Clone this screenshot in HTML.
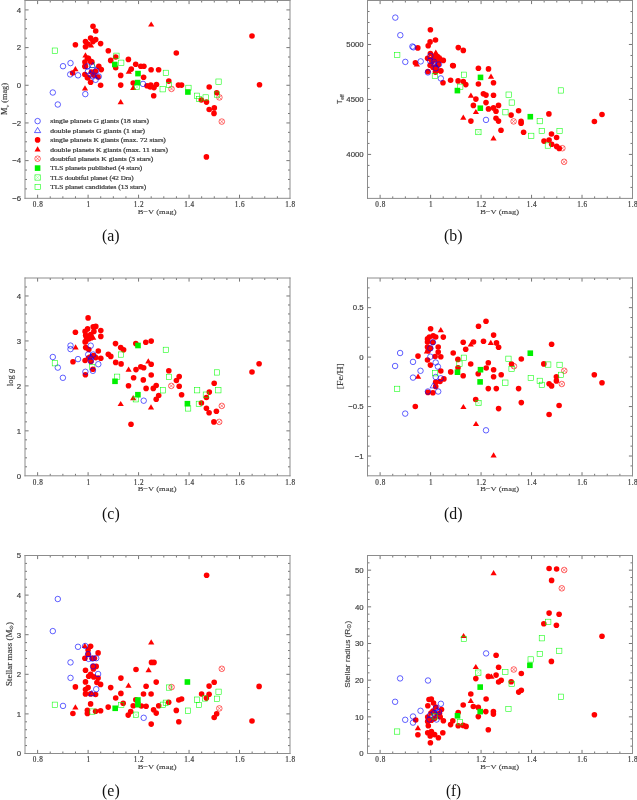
<!DOCTYPE html>
<html><head><meta charset="utf-8"><title>Figure</title>
<style>
html,body{margin:0;padding:0;background:#fff;}
body{width:637px;height:800px;overflow:hidden;}
svg{display:block;}
text{font-family:"Liberation Serif",serif;fill:#3a3a3a;filter:grayscale(1);}
.xl{font-size:7.2px;text-anchor:middle;letter-spacing:0.45px;stroke:#444;stroke-width:0.2px;}
.xt{font-size:7px;text-anchor:middle;stroke:#444;stroke-width:0.12px;}
.yl{font-family:"Liberation Sans",sans-serif;font-size:7.8px;text-anchor:end;stroke:#444;stroke-width:0.18px;}
.yt{font-size:7.6px;text-anchor:middle;stroke:#444;stroke-width:0.15px;}
.yt.sans{font-family:"Liberation Sans",sans-serif;font-size:7.8px;}
.pl{font-size:17px;text-anchor:middle;fill:#111;}
.lg{font-size:5.8px;stroke:#444;stroke-width:0.22px;}
</style></head>
<body><svg width="637" height="800" viewBox="0 0 637 800">
<rect width="637" height="800" fill="#fff"/>
<g id="pa">
<rect x="89.3" y="62.1" width="5.3" height="5.3" fill="none" stroke="#00ff00" stroke-width="0.55"/>
<circle cx="93.0" cy="26.3" r="2.8" fill="#ff0000"/>
<circle cx="95.7" cy="31.0" r="2.8" fill="#ff0000"/>
<circle cx="90.6" cy="38.1" r="2.8" fill="#ff0000"/>
<circle cx="95.7" cy="39.6" r="2.8" fill="#ff0000"/>
<circle cx="93.0" cy="41.6" r="2.8" fill="#ff0000"/>
<circle cx="85.5" cy="41.6" r="2.8" fill="#ff0000"/>
<circle cx="87.8" cy="44.0" r="2.8" fill="#ff0000"/>
<circle cx="85.5" cy="46.7" r="2.8" fill="#ff0000"/>
<circle cx="100.6" cy="43.6" r="2.8" fill="#ff0000"/>
<circle cx="75.4" cy="44.7" r="2.8" fill="#ff0000"/>
<circle cx="108.3" cy="50.7" r="2.8" fill="#ff0000"/>
<circle cx="88.4" cy="58.4" r="2.8" fill="#ff0000"/>
<circle cx="110.7" cy="60.4" r="2.8" fill="#ff0000"/>
<circle cx="115.7" cy="57.0" r="2.8" fill="#ff0000"/>
<circle cx="115.7" cy="67.7" r="2.8" fill="#ff0000"/>
<circle cx="87.4" cy="58.2" r="2.8" fill="#ff0000"/>
<circle cx="84.9" cy="62.0" r="2.8" fill="#ff0000"/>
<circle cx="90.6" cy="61.4" r="2.8" fill="#ff0000"/>
<circle cx="84.9" cy="66.4" r="2.8" fill="#ff0000"/>
<circle cx="98.8" cy="66.4" r="2.8" fill="#ff0000"/>
<circle cx="101.3" cy="69.6" r="2.8" fill="#ff0000"/>
<circle cx="84.9" cy="74.5" r="2.8" fill="#ff0000"/>
<circle cx="87.4" cy="77.7" r="2.8" fill="#ff0000"/>
<circle cx="98.1" cy="77.0" r="2.8" fill="#ff0000"/>
<circle cx="93.7" cy="75.1" r="2.8" fill="#ff0000"/>
<circle cx="88.0" cy="77.6" r="2.8" fill="#ff0000"/>
<circle cx="91.8" cy="61.9" r="2.8" fill="#ff0000"/>
<circle cx="85.5" cy="66.3" r="2.8" fill="#ff0000"/>
<circle cx="95.5" cy="71.3" r="2.8" fill="#ff0000"/>
<circle cx="91.5" cy="72.0" r="2.8" fill="#ff0000"/>
<circle cx="93.5" cy="74.0" r="2.8" fill="#ff0000"/>
<circle cx="72.6" cy="73.0" r="2.8" fill="#ff0000"/>
<circle cx="90.6" cy="82.3" r="2.8" fill="#ff0000"/>
<circle cx="100.6" cy="85.2" r="2.8" fill="#ff0000"/>
<circle cx="128.4" cy="59.4" r="2.8" fill="#ff0000"/>
<circle cx="135.7" cy="64.3" r="2.8" fill="#ff0000"/>
<circle cx="140.8" cy="66.2" r="2.8" fill="#ff0000"/>
<circle cx="143.9" cy="66.2" r="2.8" fill="#ff0000"/>
<circle cx="131.3" cy="69.1" r="2.8" fill="#ff0000"/>
<circle cx="151.1" cy="69.8" r="2.8" fill="#ff0000"/>
<circle cx="158.6" cy="69.8" r="2.8" fill="#ff0000"/>
<circle cx="120.7" cy="75.4" r="2.8" fill="#ff0000"/>
<circle cx="143.6" cy="77.3" r="2.8" fill="#ff0000"/>
<circle cx="168.8" cy="81.1" r="2.8" fill="#ff0000"/>
<circle cx="120.7" cy="85.1" r="2.8" fill="#ff0000"/>
<circle cx="133.2" cy="83.0" r="2.8" fill="#ff0000"/>
<circle cx="147.0" cy="85.8" r="2.8" fill="#ff0000"/>
<circle cx="150.8" cy="85.1" r="2.8" fill="#ff0000"/>
<circle cx="156.5" cy="84.5" r="2.8" fill="#ff0000"/>
<circle cx="154.0" cy="87.6" r="2.8" fill="#ff0000"/>
<circle cx="150.2" cy="87.0" r="2.8" fill="#ff0000"/>
<circle cx="153.7" cy="95.8" r="2.8" fill="#ff0000"/>
<circle cx="178.4" cy="85.1" r="2.8" fill="#ff0000"/>
<circle cx="181.6" cy="85.1" r="2.8" fill="#ff0000"/>
<circle cx="176.3" cy="53.0" r="2.8" fill="#ff0000"/>
<circle cx="252.0" cy="36.0" r="2.8" fill="#ff0000"/>
<circle cx="259.5" cy="84.8" r="2.8" fill="#ff0000"/>
<circle cx="209.2" cy="87.0" r="2.8" fill="#ff0000"/>
<circle cx="216.7" cy="92.7" r="2.8" fill="#ff0000"/>
<circle cx="201.3" cy="100.0" r="2.8" fill="#ff0000"/>
<circle cx="206.5" cy="102.1" r="2.8" fill="#ff0000"/>
<circle cx="209.2" cy="109.5" r="2.8" fill="#ff0000"/>
<circle cx="214.3" cy="107.9" r="2.8" fill="#ff0000"/>
<circle cx="214.0" cy="113.4" r="2.8" fill="#ff0000"/>
<circle cx="206.4" cy="156.9" r="2.8" fill="#ff0000"/>
<path d="M151.2 21.4l3.1 5.2h-6.2z" fill="#ff0000"/>
<path d="M91.0 42.4l3.1 5.2h-6.2z" fill="#ff0000"/>
<path d="M85.5 52.3l3.1 5.2h-6.2z" fill="#ff0000"/>
<path d="M75.4 66.1l3.1 5.2h-6.2z" fill="#ff0000"/>
<path d="M85.0 85.3l3.1 5.2h-6.2z" fill="#ff0000"/>
<path d="M128.8 68.5l3.1 5.2h-6.2z" fill="#ff0000"/>
<path d="M133.2 84.8l3.1 5.2h-6.2z" fill="#ff0000"/>
<path d="M120.7 99.0l3.1 5.2h-6.2z" fill="#ff0000"/>
<circle cx="63.0" cy="66.2" r="2.75" fill="none" stroke="#0000ff" stroke-width="0.62"/>
<circle cx="70.5" cy="63.1" r="2.75" fill="none" stroke="#0000ff" stroke-width="0.62"/>
<circle cx="70.2" cy="74.4" r="2.75" fill="none" stroke="#0000ff" stroke-width="0.62"/>
<circle cx="78.0" cy="75.3" r="2.75" fill="none" stroke="#0000ff" stroke-width="0.62"/>
<circle cx="52.8" cy="92.5" r="2.75" fill="none" stroke="#0000ff" stroke-width="0.62"/>
<circle cx="57.8" cy="104.5" r="2.75" fill="none" stroke="#0000ff" stroke-width="0.62"/>
<circle cx="85.3" cy="94.1" r="2.75" fill="none" stroke="#0000ff" stroke-width="0.62"/>
<circle cx="143.0" cy="83.9" r="2.75" fill="none" stroke="#0000ff" stroke-width="0.62"/>
<circle cx="87.4" cy="66.4" r="2.75" fill="none" stroke="#0000ff" stroke-width="0.62"/>
<circle cx="96.2" cy="70.8" r="2.75" fill="none" stroke="#0000ff" stroke-width="0.62"/>
<circle cx="98.8" cy="76.5" r="2.75" fill="none" stroke="#0000ff" stroke-width="0.62"/>
<circle cx="88.0" cy="71.3" r="2.75" fill="none" stroke="#0000ff" stroke-width="0.62"/>
<circle cx="93.1" cy="76.4" r="2.75" fill="none" stroke="#0000ff" stroke-width="0.62"/>
<circle cx="90.6" cy="74.5" r="2.75" fill="none" stroke="#0000ff" stroke-width="0.62"/>
<circle cx="95.6" cy="79.8" r="2.75" fill="none" stroke="#0000ff" stroke-width="0.62"/>
<path d="M92.8 62.4l3.1 5.2h-6.2z" fill="none" stroke="#0000ff" stroke-width="0.62"/>
<circle cx="171.5" cy="88.9" r="2.8" fill="none" stroke="#ff0000" stroke-width="0.6"/><path d="M169.6 87.0l3.8 3.8M169.6 90.8l3.8 -3.8" stroke="#ff0000" stroke-width="0.45"/>
<circle cx="219.4" cy="97.4" r="2.8" fill="none" stroke="#ff0000" stroke-width="0.6"/><path d="M217.5 95.5l3.8 3.8M217.5 99.3l3.8 -3.8" stroke="#ff0000" stroke-width="0.45"/>
<circle cx="221.8" cy="121.6" r="2.8" fill="none" stroke="#ff0000" stroke-width="0.6"/><path d="M219.9 119.7l3.8 3.8M219.9 123.5l3.8 -3.8" stroke="#ff0000" stroke-width="0.45"/>
<rect x="52.2" y="48.0" width="5.3" height="5.3" fill="none" stroke="#00ff00" stroke-width="0.55"/>
<rect x="113.8" y="53.1" width="5.3" height="5.3" fill="none" stroke="#00ff00" stroke-width="0.55"/>
<rect x="118.6" y="60.1" width="5.3" height="5.3" fill="none" stroke="#00ff00" stroke-width="0.55"/>
<rect x="163.2" y="70.2" width="5.3" height="5.3" fill="none" stroke="#00ff00" stroke-width="0.55"/>
<rect x="160.0" y="86.6" width="5.3" height="5.3" fill="none" stroke="#00ff00" stroke-width="0.55"/>
<rect x="166.3" y="82.4" width="5.3" height="5.3" fill="none" stroke="#00ff00" stroke-width="0.55"/>
<rect x="185.8" y="85.2" width="5.3" height="5.3" fill="none" stroke="#00ff00" stroke-width="0.55"/>
<rect x="215.9" y="79.0" width="5.3" height="5.3" fill="none" stroke="#00ff00" stroke-width="0.55"/>
<rect x="214.3" y="91.9" width="5.3" height="5.3" fill="none" stroke="#00ff00" stroke-width="0.55"/>
<rect x="194.4" y="93.1" width="5.3" height="5.3" fill="none" stroke="#00ff00" stroke-width="0.55"/>
<rect x="196.3" y="96.3" width="5.3" height="5.3" fill="none" stroke="#00ff00" stroke-width="0.55"/>
<rect x="203.0" y="94.8" width="5.3" height="5.3" fill="none" stroke="#00ff00" stroke-width="0.55"/>
<rect x="134.35" y="84.35" width="5.3" height="5.3" fill="none" stroke="#00ff00" stroke-width="0.55"/><path d="M134.35 84.35l5.3 5.3M134.35 89.65l5.3 -5.3" stroke="#00ff00" stroke-width="0.4" stroke-opacity="0.6"/>
<rect x="112.0" y="61.7" width="5.6" height="5.6" fill="#00f000"/>
<rect x="135.2" y="70.8" width="5.6" height="5.6" fill="#00f000"/>
<rect x="134.8" y="79.8" width="5.6" height="5.6" fill="#00f000"/>
<rect x="185.1" y="89.2" width="5.6" height="5.6" fill="#00f000"/>
<path d="M37.62 198.30v-3.60M37.62 0.50v3.60M50.24 198.30v-2.00M50.24 0.50v2.00M62.86 198.30v-2.00M62.86 0.50v2.00M75.48 198.30v-2.00M75.48 0.50v2.00M88.10 198.30v-3.60M88.10 0.50v3.60M100.71 198.30v-2.00M100.71 0.50v2.00M113.33 198.30v-2.00M113.33 0.50v2.00M125.95 198.30v-2.00M125.95 0.50v2.00M138.57 198.30v-3.60M138.57 0.50v3.60M151.19 198.30v-2.00M151.19 0.50v2.00M163.81 198.30v-2.00M163.81 0.50v2.00M176.43 198.30v-2.00M176.43 0.50v2.00M189.05 198.30v-3.60M189.05 0.50v3.60M201.67 198.30v-2.00M201.67 0.50v2.00M214.29 198.30v-2.00M214.29 0.50v2.00M226.90 198.30v-2.00M226.90 0.50v2.00M239.52 198.30v-3.60M239.52 0.50v3.60M252.14 198.30v-2.00M252.14 0.50v2.00M264.76 198.30v-2.00M264.76 0.50v2.00M277.38 198.30v-2.00M277.38 0.50v2.00M25.00 188.88h2.00M290.00 188.88h-2.00M25.00 179.46h2.00M290.00 179.46h-2.00M25.00 170.04h2.00M290.00 170.04h-2.00M25.00 160.62h3.60M290.00 160.62h-3.60M25.00 151.20h2.00M290.00 151.20h-2.00M25.00 141.79h2.00M290.00 141.79h-2.00M25.00 132.37h2.00M290.00 132.37h-2.00M25.00 122.95h3.60M290.00 122.95h-3.60M25.00 113.53h2.00M290.00 113.53h-2.00M25.00 104.11h2.00M290.00 104.11h-2.00M25.00 94.69h2.00M290.00 94.69h-2.00M25.00 85.27h3.60M290.00 85.27h-3.60M25.00 75.85h2.00M290.00 75.85h-2.00M25.00 66.43h2.00M290.00 66.43h-2.00M25.00 57.01h2.00M290.00 57.01h-2.00M25.00 47.60h3.60M290.00 47.60h-3.60M25.00 38.18h2.00M290.00 38.18h-2.00M25.00 28.76h2.00M290.00 28.76h-2.00M25.00 19.34h2.00M290.00 19.34h-2.00M25.00 9.92h3.60M290.00 9.92h-3.60" stroke="#666" stroke-width="0.9" fill="none"/>
<path d="M24.50 0.50H290.50M24.50 198.30H290.50" stroke="#8c8c8c" stroke-width="1" fill="none"/>
<path d="M25.00 0.00V198.80M290.00 0.00V198.80" stroke="#8c8c8c" stroke-width="1" fill="none"/>
<text x="38.02" y="207.00" class="xl">0.8</text>
<text x="88.50" y="207.00" class="xl">1</text>
<text x="138.97" y="207.00" class="xl">1.2</text>
<text x="189.45" y="207.00" class="xl">1.4</text>
<text x="239.92" y="207.00" class="xl">1.6</text>
<text x="290.40" y="207.00" class="xl">1.8</text>
<text x="157.10" y="213.90" class="xt" textLength="38.9" lengthAdjust="spacingAndGlyphs">B−V (mag)</text>
<text x="21.20" y="201.10" class="yl">−6</text>
<text x="21.20" y="163.42" class="yl">−4</text>
<text x="21.20" y="125.75" class="yl">−2</text>
<text x="21.20" y="88.07" class="yl">0</text>
<text x="21.20" y="50.40" class="yl">2</text>
<text x="21.20" y="12.72" class="yl">4</text>
<text transform="translate(4.60 99.00) rotate(-90)" class="yt serif" x="0" y="2.6" textLength="32.0" lengthAdjust="spacingAndGlyphs">M<tspan font-size="5" dy="1.4">v</tspan><tspan dy="-1.4"> (mag)</tspan></text>
<text x="110.80" y="241.30" class="pl" textLength="17.6" lengthAdjust="spacingAndGlyphs">(a)</text>
</g>
<g id="pb">
<circle cx="417.8" cy="47.9" r="2.8" fill="#ff0000"/>
<circle cx="430.4" cy="29.8" r="2.8" fill="#ff0000"/>
<circle cx="435.5" cy="40.0" r="2.8" fill="#ff0000"/>
<circle cx="430.1" cy="41.9" r="2.8" fill="#ff0000"/>
<circle cx="428.2" cy="45.7" r="2.8" fill="#ff0000"/>
<circle cx="415.4" cy="62.8" r="2.8" fill="#ff0000"/>
<circle cx="430.4" cy="53.5" r="2.8" fill="#ff0000"/>
<circle cx="427.6" cy="58.2" r="2.8" fill="#ff0000"/>
<circle cx="433.9" cy="56.4" r="2.8" fill="#ff0000"/>
<circle cx="430.1" cy="65.2" r="2.8" fill="#ff0000"/>
<circle cx="443.3" cy="60.4" r="2.8" fill="#ff0000"/>
<circle cx="440.8" cy="70.8" r="2.8" fill="#ff0000"/>
<circle cx="452.7" cy="65.5" r="2.8" fill="#ff0000"/>
<circle cx="435.4" cy="72.1" r="2.8" fill="#ff0000"/>
<circle cx="427.9" cy="71.6" r="2.8" fill="#ff0000"/>
<circle cx="440.6" cy="71.0" r="2.8" fill="#ff0000"/>
<circle cx="443.0" cy="82.8" r="2.8" fill="#ff0000"/>
<circle cx="450.6" cy="80.2" r="2.8" fill="#ff0000"/>
<circle cx="432.0" cy="62.0" r="2.8" fill="#ff0000"/>
<circle cx="437.0" cy="66.0" r="2.8" fill="#ff0000"/>
<circle cx="438.5" cy="64.5" r="2.8" fill="#ff0000"/>
<circle cx="431.0" cy="59.5" r="2.8" fill="#ff0000"/>
<circle cx="434.5" cy="60.0" r="2.8" fill="#ff0000"/>
<circle cx="436.0" cy="69.5" r="2.8" fill="#ff0000"/>
<circle cx="433.0" cy="67.5" r="2.8" fill="#ff0000"/>
<circle cx="439.0" cy="61.0" r="2.8" fill="#ff0000"/>
<circle cx="437.5" cy="56.5" r="2.8" fill="#ff0000"/>
<circle cx="458.3" cy="47.6" r="2.8" fill="#ff0000"/>
<circle cx="463.3" cy="50.4" r="2.8" fill="#ff0000"/>
<circle cx="453.3" cy="65.8" r="2.8" fill="#ff0000"/>
<circle cx="478.4" cy="68.3" r="2.8" fill="#ff0000"/>
<circle cx="488.5" cy="68.9" r="2.8" fill="#ff0000"/>
<circle cx="458.1" cy="80.9" r="2.8" fill="#ff0000"/>
<circle cx="463.3" cy="81.5" r="2.8" fill="#ff0000"/>
<circle cx="465.8" cy="84.6" r="2.8" fill="#ff0000"/>
<circle cx="478.4" cy="84.0" r="2.8" fill="#ff0000"/>
<circle cx="493.5" cy="82.8" r="2.8" fill="#ff0000"/>
<circle cx="483.4" cy="93.8" r="2.8" fill="#ff0000"/>
<circle cx="486.0" cy="95.1" r="2.8" fill="#ff0000"/>
<circle cx="493.5" cy="95.3" r="2.8" fill="#ff0000"/>
<circle cx="475.9" cy="99.1" r="2.8" fill="#ff0000"/>
<circle cx="486.0" cy="102.6" r="2.8" fill="#ff0000"/>
<circle cx="473.4" cy="105.4" r="2.8" fill="#ff0000"/>
<circle cx="498.5" cy="105.4" r="2.8" fill="#ff0000"/>
<circle cx="488.5" cy="108.9" r="2.8" fill="#ff0000"/>
<circle cx="493.5" cy="107.9" r="2.8" fill="#ff0000"/>
<circle cx="496.0" cy="111.3" r="2.8" fill="#ff0000"/>
<circle cx="518.6" cy="110.7" r="2.8" fill="#ff0000"/>
<circle cx="470.9" cy="121.1" r="2.8" fill="#ff0000"/>
<circle cx="496.0" cy="118.2" r="2.8" fill="#ff0000"/>
<circle cx="498.5" cy="121.1" r="2.8" fill="#ff0000"/>
<circle cx="511.1" cy="115.1" r="2.8" fill="#ff0000"/>
<circle cx="521.1" cy="121.4" r="2.8" fill="#ff0000"/>
<circle cx="521.1" cy="123.3" r="2.8" fill="#ff0000"/>
<circle cx="523.6" cy="132.3" r="2.8" fill="#ff0000"/>
<circle cx="501.0" cy="130.2" r="2.8" fill="#ff0000"/>
<circle cx="548.9" cy="113.9" r="2.8" fill="#ff0000"/>
<circle cx="551.5" cy="134.0" r="2.8" fill="#ff0000"/>
<circle cx="556.6" cy="137.5" r="2.8" fill="#ff0000"/>
<circle cx="544.0" cy="141.1" r="2.8" fill="#ff0000"/>
<circle cx="549.1" cy="140.1" r="2.8" fill="#ff0000"/>
<circle cx="551.7" cy="144.2" r="2.8" fill="#ff0000"/>
<circle cx="556.6" cy="146.4" r="2.8" fill="#ff0000"/>
<circle cx="559.2" cy="148.4" r="2.8" fill="#ff0000"/>
<circle cx="602.0" cy="114.5" r="2.8" fill="#ff0000"/>
<circle cx="594.4" cy="121.5" r="2.8" fill="#ff0000"/>
<path d="M416.9 61.4l3.1 5.2h-6.2z" fill="#ff0000"/>
<path d="M435.8 49.5l3.1 5.2h-6.2z" fill="#ff0000"/>
<path d="M440.8 55.1l3.1 5.2h-6.2z" fill="#ff0000"/>
<path d="M491.0 73.6l3.1 5.2h-6.2z" fill="#ff0000"/>
<path d="M470.9 92.5l3.1 5.2h-6.2z" fill="#ff0000"/>
<path d="M475.9 108.9l3.1 5.2h-6.2z" fill="#ff0000"/>
<path d="M463.3 114.5l3.1 5.2h-6.2z" fill="#ff0000"/>
<path d="M493.5 135.2l3.1 5.2h-6.2z" fill="#ff0000"/>
<circle cx="395.3" cy="17.6" r="2.75" fill="none" stroke="#0000ff" stroke-width="0.62"/>
<circle cx="400.3" cy="35.2" r="2.75" fill="none" stroke="#0000ff" stroke-width="0.62"/>
<circle cx="412.4" cy="46.5" r="2.75" fill="none" stroke="#0000ff" stroke-width="0.62"/>
<circle cx="413.4" cy="47.3" r="2.75" fill="none" stroke="#0000ff" stroke-width="0.62"/>
<circle cx="405.3" cy="61.9" r="2.75" fill="none" stroke="#0000ff" stroke-width="0.62"/>
<circle cx="420.7" cy="61.4" r="2.75" fill="none" stroke="#0000ff" stroke-width="0.62"/>
<circle cx="430.4" cy="56.0" r="2.75" fill="none" stroke="#0000ff" stroke-width="0.62"/>
<circle cx="430.1" cy="60.8" r="2.75" fill="none" stroke="#0000ff" stroke-width="0.62"/>
<circle cx="433.9" cy="61.7" r="2.75" fill="none" stroke="#0000ff" stroke-width="0.62"/>
<circle cx="438.9" cy="64.5" r="2.75" fill="none" stroke="#0000ff" stroke-width="0.62"/>
<circle cx="435.8" cy="68.3" r="2.75" fill="none" stroke="#0000ff" stroke-width="0.62"/>
<circle cx="427.9" cy="72.4" r="2.75" fill="none" stroke="#0000ff" stroke-width="0.62"/>
<circle cx="440.8" cy="78.4" r="2.75" fill="none" stroke="#0000ff" stroke-width="0.62"/>
<circle cx="486.0" cy="119.9" r="2.75" fill="none" stroke="#0000ff" stroke-width="0.62"/>
<path d="M434.5 60.8l3.1 5.2h-6.2z" fill="none" stroke="#0000ff" stroke-width="0.62"/>
<circle cx="513.6" cy="121.4" r="2.8" fill="none" stroke="#ff0000" stroke-width="0.6"/><path d="M511.7 119.5l3.8 3.8M511.7 123.3l3.8 -3.8" stroke="#ff0000" stroke-width="0.45"/>
<circle cx="562.4" cy="148.2" r="2.8" fill="none" stroke="#ff0000" stroke-width="0.6"/><path d="M560.5 146.3l3.8 3.8M560.5 150.1l3.8 -3.8" stroke="#ff0000" stroke-width="0.45"/>
<circle cx="564.1" cy="161.8" r="2.8" fill="none" stroke="#ff0000" stroke-width="0.6"/><path d="M562.2 159.9l3.8 3.8M562.2 163.7l3.8 -3.8" stroke="#ff0000" stroke-width="0.45"/>
<rect x="394.6" y="52.4" width="5.3" height="5.3" fill="none" stroke="#00ff00" stroke-width="0.55"/>
<rect x="432.2" y="73.4" width="5.3" height="5.3" fill="none" stroke="#00ff00" stroke-width="0.55"/>
<rect x="461.4" y="72.1" width="5.3" height="5.3" fill="none" stroke="#00ff00" stroke-width="0.55"/>
<rect x="457.6" y="84.1" width="5.3" height="5.3" fill="none" stroke="#00ff00" stroke-width="0.55"/>
<rect x="506.0" y="92.0" width="5.3" height="5.3" fill="none" stroke="#00ff00" stroke-width="0.55"/>
<rect x="509.1" y="99.9" width="5.3" height="5.3" fill="none" stroke="#00ff00" stroke-width="0.55"/>
<rect x="502.8" y="109.6" width="5.3" height="5.3" fill="none" stroke="#00ff00" stroke-width="0.55"/>
<rect x="558.2" y="87.8" width="5.3" height="5.3" fill="none" stroke="#00ff00" stroke-width="0.55"/>
<rect x="537.1" y="118.5" width="5.3" height="5.3" fill="none" stroke="#00ff00" stroke-width="0.55"/>
<rect x="528.6" y="133.2" width="5.3" height="5.3" fill="none" stroke="#00ff00" stroke-width="0.55"/>
<rect x="539.1" y="128.4" width="5.3" height="5.3" fill="none" stroke="#00ff00" stroke-width="0.55"/>
<rect x="556.9" y="128.4" width="5.3" height="5.3" fill="none" stroke="#00ff00" stroke-width="0.55"/>
<rect x="545.2" y="142.9" width="5.3" height="5.3" fill="none" stroke="#00ff00" stroke-width="0.55"/>
<rect x="475.75" y="129.45" width="5.3" height="5.3" fill="none" stroke="#00ff00" stroke-width="0.55"/><path d="M475.75 129.45l5.3 5.3M475.75 134.75l5.3 -5.3" stroke="#00ff00" stroke-width="0.4" stroke-opacity="0.6"/>
<rect x="477.7" y="74.6" width="5.6" height="5.6" fill="#00f000"/>
<rect x="454.6" y="87.8" width="5.6" height="5.6" fill="#00f000"/>
<rect x="477.5" y="105.4" width="5.6" height="5.6" fill="#00f000"/>
<rect x="527.5" y="113.9" width="5.6" height="5.6" fill="#00f000"/>
<path d="M380.12 198.40v-3.60M380.12 0.50v3.60M392.74 198.40v-2.00M392.74 0.50v2.00M405.36 198.40v-2.00M405.36 0.50v2.00M417.98 198.40v-2.00M417.98 0.50v2.00M430.60 198.40v-3.60M430.60 0.50v3.60M443.21 198.40v-2.00M443.21 0.50v2.00M455.83 198.40v-2.00M455.83 0.50v2.00M468.45 198.40v-2.00M468.45 0.50v2.00M481.07 198.40v-3.60M481.07 0.50v3.60M493.69 198.40v-2.00M493.69 0.50v2.00M506.31 198.40v-2.00M506.31 0.50v2.00M518.93 198.40v-2.00M518.93 0.50v2.00M531.55 198.40v-3.60M531.55 0.50v3.60M544.17 198.40v-2.00M544.17 0.50v2.00M556.79 198.40v-2.00M556.79 0.50v2.00M569.40 198.40v-2.00M569.40 0.50v2.00M582.02 198.40v-3.60M582.02 0.50v3.60M594.64 198.40v-2.00M594.64 0.50v2.00M607.26 198.40v-2.00M607.26 0.50v2.00M619.88 198.40v-2.00M619.88 0.50v2.00M367.50 187.41h2.00M632.50 187.41h-2.00M367.50 176.41h2.00M632.50 176.41h-2.00M367.50 165.42h2.00M632.50 165.42h-2.00M367.50 154.42h3.60M632.50 154.42h-3.60M367.50 143.43h2.00M632.50 143.43h-2.00M367.50 132.43h2.00M632.50 132.43h-2.00M367.50 121.44h2.00M632.50 121.44h-2.00M367.50 110.44h2.00M632.50 110.44h-2.00M367.50 99.45h3.60M632.50 99.45h-3.60M367.50 88.46h2.00M632.50 88.46h-2.00M367.50 77.46h2.00M632.50 77.46h-2.00M367.50 66.47h2.00M632.50 66.47h-2.00M367.50 55.47h2.00M632.50 55.47h-2.00M367.50 44.48h3.60M632.50 44.48h-3.60M367.50 33.48h2.00M632.50 33.48h-2.00M367.50 22.49h2.00M632.50 22.49h-2.00M367.50 11.49h2.00M632.50 11.49h-2.00" stroke="#666" stroke-width="0.9" fill="none"/>
<path d="M367.00 0.50H633.00M367.00 198.40H633.00" stroke="#8c8c8c" stroke-width="1" fill="none"/>
<path d="M367.50 0.00V198.90M632.50 0.00V198.90" stroke="#8c8c8c" stroke-width="1" fill="none"/>
<text x="380.52" y="207.10" class="xl">0.8</text>
<text x="431.00" y="207.10" class="xl">1</text>
<text x="481.47" y="207.10" class="xl">1.2</text>
<text x="531.95" y="207.10" class="xl">1.4</text>
<text x="582.42" y="207.10" class="xl">1.6</text>
<text x="632.90" y="207.10" class="xl">1.8</text>
<text x="499.60" y="214.00" class="xt" textLength="38.9" lengthAdjust="spacingAndGlyphs">B−V (mag)</text>
<text x="363.70" y="157.22" class="yl">4000</text>
<text x="363.70" y="102.25" class="yl">4500</text>
<text x="363.70" y="47.28" class="yl">5000</text>
<text transform="translate(339.60 99.30) rotate(-90)" class="yt sans" x="0" y="2.6" textLength="9.6" lengthAdjust="spacingAndGlyphs">T<tspan font-size="5" dy="1.4">eff</tspan></text>
<text x="453.30" y="241.30" class="pl" textLength="18.5" lengthAdjust="spacingAndGlyphs">(b)</text>
</g>
<g id="pc">
<rect x="89.6" y="364.4" width="5.3" height="5.3" fill="none" stroke="#00ff00" stroke-width="0.55"/>
<circle cx="88.1" cy="317.9" r="2.8" fill="#ff0000"/>
<circle cx="75.4" cy="332.3" r="2.8" fill="#ff0000"/>
<circle cx="87.6" cy="328.9" r="2.8" fill="#ff0000"/>
<circle cx="93.2" cy="326.7" r="2.8" fill="#ff0000"/>
<circle cx="95.8" cy="326.4" r="2.8" fill="#ff0000"/>
<circle cx="85.1" cy="331.4" r="2.8" fill="#ff0000"/>
<circle cx="93.9" cy="331.4" r="2.8" fill="#ff0000"/>
<circle cx="100.8" cy="330.5" r="2.8" fill="#ff0000"/>
<circle cx="85.7" cy="335.2" r="2.8" fill="#ff0000"/>
<circle cx="90.7" cy="334.6" r="2.8" fill="#ff0000"/>
<circle cx="100.8" cy="336.4" r="2.8" fill="#ff0000"/>
<circle cx="88.8" cy="339.0" r="2.8" fill="#ff0000"/>
<circle cx="85.7" cy="341.5" r="2.8" fill="#ff0000"/>
<circle cx="91.4" cy="337.7" r="2.8" fill="#ff0000"/>
<circle cx="86.3" cy="336.9" r="2.8" fill="#ff0000"/>
<circle cx="85.1" cy="341.9" r="2.8" fill="#ff0000"/>
<circle cx="85.7" cy="347.6" r="2.8" fill="#ff0000"/>
<circle cx="88.8" cy="349.5" r="2.8" fill="#ff0000"/>
<circle cx="98.3" cy="351.0" r="2.8" fill="#ff0000"/>
<circle cx="108.3" cy="354.2" r="2.8" fill="#ff0000"/>
<circle cx="110.8" cy="356.4" r="2.8" fill="#ff0000"/>
<circle cx="115.5" cy="343.6" r="2.8" fill="#ff0000"/>
<circle cx="100.8" cy="358.3" r="2.8" fill="#ff0000"/>
<circle cx="85.1" cy="360.5" r="2.8" fill="#ff0000"/>
<circle cx="90.1" cy="357.0" r="2.8" fill="#ff0000"/>
<circle cx="95.8" cy="357.6" r="2.8" fill="#ff0000"/>
<circle cx="92.9" cy="369.3" r="2.8" fill="#ff0000"/>
<circle cx="85.4" cy="374.8" r="2.8" fill="#ff0000"/>
<circle cx="73.0" cy="361.8" r="2.8" fill="#ff0000"/>
<circle cx="93.5" cy="355.5" r="2.8" fill="#ff0000"/>
<circle cx="91.0" cy="361.5" r="2.8" fill="#ff0000"/>
<circle cx="88.5" cy="358.0" r="2.8" fill="#ff0000"/>
<circle cx="120.7" cy="347.6" r="2.8" fill="#ff0000"/>
<circle cx="123.6" cy="349.8" r="2.8" fill="#ff0000"/>
<circle cx="135.8" cy="343.6" r="2.8" fill="#ff0000"/>
<circle cx="145.8" cy="342.3" r="2.8" fill="#ff0000"/>
<circle cx="151.2" cy="341.1" r="2.8" fill="#ff0000"/>
<circle cx="115.7" cy="362.4" r="2.8" fill="#ff0000"/>
<circle cx="121.1" cy="363.9" r="2.8" fill="#ff0000"/>
<circle cx="136.0" cy="369.6" r="2.8" fill="#ff0000"/>
<circle cx="151.2" cy="364.3" r="2.8" fill="#ff0000"/>
<circle cx="140.8" cy="366.8" r="2.8" fill="#ff0000"/>
<circle cx="143.7" cy="367.7" r="2.8" fill="#ff0000"/>
<circle cx="133.6" cy="377.7" r="2.8" fill="#ff0000"/>
<circle cx="143.3" cy="379.9" r="2.8" fill="#ff0000"/>
<circle cx="151.2" cy="375.0" r="2.8" fill="#ff0000"/>
<circle cx="128.5" cy="385.7" r="2.8" fill="#ff0000"/>
<circle cx="146.1" cy="388.4" r="2.8" fill="#ff0000"/>
<circle cx="153.3" cy="388.4" r="2.8" fill="#ff0000"/>
<circle cx="156.2" cy="385.5" r="2.8" fill="#ff0000"/>
<circle cx="168.8" cy="370.8" r="2.8" fill="#ff0000"/>
<circle cx="179.2" cy="376.6" r="2.8" fill="#ff0000"/>
<circle cx="176.4" cy="380.5" r="2.8" fill="#ff0000"/>
<circle cx="179.2" cy="386.3" r="2.8" fill="#ff0000"/>
<circle cx="181.6" cy="394.7" r="2.8" fill="#ff0000"/>
<circle cx="158.7" cy="395.5" r="2.8" fill="#ff0000"/>
<circle cx="156.2" cy="399.2" r="2.8" fill="#ff0000"/>
<circle cx="131.0" cy="424.2" r="2.8" fill="#ff0000"/>
<circle cx="259.1" cy="363.8" r="2.8" fill="#ff0000"/>
<circle cx="252.0" cy="372.0" r="2.8" fill="#ff0000"/>
<circle cx="214.2" cy="383.3" r="2.8" fill="#ff0000"/>
<circle cx="209.3" cy="392.1" r="2.8" fill="#ff0000"/>
<circle cx="206.4" cy="397.5" r="2.8" fill="#ff0000"/>
<circle cx="201.4" cy="403.0" r="2.8" fill="#ff0000"/>
<circle cx="206.4" cy="408.2" r="2.8" fill="#ff0000"/>
<circle cx="209.1" cy="412.8" r="2.8" fill="#ff0000"/>
<circle cx="216.4" cy="411.2" r="2.8" fill="#ff0000"/>
<circle cx="213.9" cy="421.9" r="2.8" fill="#ff0000"/>
<path d="M75.6 344.3l3.1 5.2h-6.2z" fill="#ff0000"/>
<path d="M93.2 334.6l3.1 5.2h-6.2z" fill="#ff0000"/>
<path d="M128.6 366.5l3.1 5.2h-6.2z" fill="#ff0000"/>
<path d="M148.3 358.3l3.1 5.2h-6.2z" fill="#ff0000"/>
<path d="M133.2 395.1l3.1 5.2h-6.2z" fill="#ff0000"/>
<path d="M120.7 400.9l3.1 5.2h-6.2z" fill="#ff0000"/>
<path d="M151.0 404.3l3.1 5.2h-6.2z" fill="#ff0000"/>
<circle cx="70.5" cy="345.6" r="2.75" fill="none" stroke="#0000ff" stroke-width="0.62"/>
<circle cx="70.5" cy="349.1" r="2.75" fill="none" stroke="#0000ff" stroke-width="0.62"/>
<circle cx="52.8" cy="357.0" r="2.75" fill="none" stroke="#0000ff" stroke-width="0.62"/>
<circle cx="57.8" cy="367.6" r="2.75" fill="none" stroke="#0000ff" stroke-width="0.62"/>
<circle cx="62.9" cy="377.8" r="2.75" fill="none" stroke="#0000ff" stroke-width="0.62"/>
<circle cx="78.0" cy="359.1" r="2.75" fill="none" stroke="#0000ff" stroke-width="0.62"/>
<circle cx="90.7" cy="345.7" r="2.75" fill="none" stroke="#0000ff" stroke-width="0.62"/>
<circle cx="88.2" cy="354.5" r="2.75" fill="none" stroke="#0000ff" stroke-width="0.62"/>
<circle cx="93.2" cy="354.5" r="2.75" fill="none" stroke="#0000ff" stroke-width="0.62"/>
<circle cx="90.7" cy="360.8" r="2.75" fill="none" stroke="#0000ff" stroke-width="0.62"/>
<circle cx="98.3" cy="364.2" r="2.75" fill="none" stroke="#0000ff" stroke-width="0.62"/>
<circle cx="85.4" cy="371.8" r="2.75" fill="none" stroke="#0000ff" stroke-width="0.62"/>
<circle cx="92.9" cy="370.8" r="2.75" fill="none" stroke="#0000ff" stroke-width="0.62"/>
<circle cx="143.7" cy="400.7" r="2.75" fill="none" stroke="#0000ff" stroke-width="0.62"/>
<path d="M91.0 353.9l3.1 5.2h-6.2z" fill="none" stroke="#0000ff" stroke-width="0.62"/>
<circle cx="171.3" cy="385.9" r="2.8" fill="none" stroke="#ff0000" stroke-width="0.6"/><path d="M169.4 384.0l3.8 3.8M169.4 387.8l3.8 -3.8" stroke="#ff0000" stroke-width="0.45"/>
<circle cx="221.8" cy="405.9" r="2.8" fill="none" stroke="#ff0000" stroke-width="0.6"/><path d="M219.9 404.0l3.8 3.8M219.9 407.8l3.8 -3.8" stroke="#ff0000" stroke-width="0.45"/>
<circle cx="219.2" cy="421.9" r="2.8" fill="none" stroke="#ff0000" stroke-width="0.6"/><path d="M217.3 420.0l3.8 3.8M217.3 423.8l3.8 -3.8" stroke="#ff0000" stroke-width="0.45"/>
<rect x="52.2" y="360.6" width="5.3" height="5.3" fill="none" stroke="#00ff00" stroke-width="0.55"/>
<rect x="118.4" y="351.9" width="5.3" height="5.3" fill="none" stroke="#00ff00" stroke-width="0.55"/>
<rect x="163.2" y="347.2" width="5.3" height="5.3" fill="none" stroke="#00ff00" stroke-width="0.55"/>
<rect x="114.5" y="374.1" width="5.3" height="5.3" fill="none" stroke="#00ff00" stroke-width="0.55"/>
<rect x="166.3" y="374.2" width="5.3" height="5.3" fill="none" stroke="#00ff00" stroke-width="0.55"/>
<rect x="160.4" y="387.7" width="5.3" height="5.3" fill="none" stroke="#00ff00" stroke-width="0.55"/>
<rect x="214.4" y="369.8" width="5.3" height="5.3" fill="none" stroke="#00ff00" stroke-width="0.55"/>
<rect x="194.5" y="387.6" width="5.3" height="5.3" fill="none" stroke="#00ff00" stroke-width="0.55"/>
<rect x="215.7" y="387.6" width="5.3" height="5.3" fill="none" stroke="#00ff00" stroke-width="0.55"/>
<rect x="203.2" y="392.0" width="5.3" height="5.3" fill="none" stroke="#00ff00" stroke-width="0.55"/>
<rect x="185.5" y="405.8" width="5.3" height="5.3" fill="none" stroke="#00ff00" stroke-width="0.55"/>
<rect x="196.2" y="401.2" width="5.3" height="5.3" fill="none" stroke="#00ff00" stroke-width="0.55"/>
<rect x="133.15" y="396.65" width="5.3" height="5.3" fill="none" stroke="#00ff00" stroke-width="0.55"/><path d="M133.15 396.65l5.3 5.3M133.15 401.95l5.3 -5.3" stroke="#00ff00" stroke-width="0.4" stroke-opacity="0.6"/>
<rect x="135.2" y="342.7" width="5.6" height="5.6" fill="#00f000"/>
<rect x="112.2" y="378.5" width="5.6" height="5.6" fill="#00f000"/>
<rect x="135.1" y="391.9" width="5.6" height="5.6" fill="#00f000"/>
<rect x="184.6" y="400.9" width="5.6" height="5.6" fill="#00f000"/>
<path d="M37.62 475.80v-3.60M37.62 278.00v3.60M50.24 475.80v-2.00M50.24 278.00v2.00M62.86 475.80v-2.00M62.86 278.00v2.00M75.48 475.80v-2.00M75.48 278.00v2.00M88.10 475.80v-3.60M88.10 278.00v3.60M100.71 475.80v-2.00M100.71 278.00v2.00M113.33 475.80v-2.00M113.33 278.00v2.00M125.95 475.80v-2.00M125.95 278.00v2.00M138.57 475.80v-3.60M138.57 278.00v3.60M151.19 475.80v-2.00M151.19 278.00v2.00M163.81 475.80v-2.00M163.81 278.00v2.00M176.43 475.80v-2.00M176.43 278.00v2.00M189.05 475.80v-3.60M189.05 278.00v3.60M201.67 475.80v-2.00M201.67 278.00v2.00M214.29 475.80v-2.00M214.29 278.00v2.00M226.90 475.80v-2.00M226.90 278.00v2.00M239.52 475.80v-3.60M239.52 278.00v3.60M252.14 475.80v-2.00M252.14 278.00v2.00M264.76 475.80v-2.00M264.76 278.00v2.00M277.38 475.80v-2.00M277.38 278.00v2.00M25.00 466.81h2.00M290.00 466.81h-2.00M25.00 457.82h2.00M290.00 457.82h-2.00M25.00 448.83h2.00M290.00 448.83h-2.00M25.00 439.84h2.00M290.00 439.84h-2.00M25.00 430.85h3.60M290.00 430.85h-3.60M25.00 421.85h2.00M290.00 421.85h-2.00M25.00 412.86h2.00M290.00 412.86h-2.00M25.00 403.87h2.00M290.00 403.87h-2.00M25.00 394.88h2.00M290.00 394.88h-2.00M25.00 385.89h3.60M290.00 385.89h-3.60M25.00 376.90h2.00M290.00 376.90h-2.00M25.00 367.91h2.00M290.00 367.91h-2.00M25.00 358.92h2.00M290.00 358.92h-2.00M25.00 349.93h2.00M290.00 349.93h-2.00M25.00 340.94h3.60M290.00 340.94h-3.60M25.00 331.95h2.00M290.00 331.95h-2.00M25.00 322.95h2.00M290.00 322.95h-2.00M25.00 313.96h2.00M290.00 313.96h-2.00M25.00 304.97h2.00M290.00 304.97h-2.00M25.00 295.98h3.60M290.00 295.98h-3.60M25.00 286.99h2.00M290.00 286.99h-2.00" stroke="#666" stroke-width="0.9" fill="none"/>
<path d="M24.50 278.00H290.50M24.50 475.80H290.50" stroke="#8c8c8c" stroke-width="1" fill="none"/>
<path d="M25.00 277.50V476.30M290.00 277.50V476.30" stroke="#8c8c8c" stroke-width="1" fill="none"/>
<text x="38.02" y="484.50" class="xl">0.8</text>
<text x="88.50" y="484.50" class="xl">1</text>
<text x="138.97" y="484.50" class="xl">1.2</text>
<text x="189.45" y="484.50" class="xl">1.4</text>
<text x="239.92" y="484.50" class="xl">1.6</text>
<text x="290.40" y="484.50" class="xl">1.8</text>
<text x="157.10" y="491.40" class="xt" textLength="38.9" lengthAdjust="spacingAndGlyphs">B−V (mag)</text>
<text x="21.20" y="478.60" class="yl">0</text>
<text x="21.20" y="433.65" class="yl">1</text>
<text x="21.20" y="388.69" class="yl">2</text>
<text x="21.20" y="343.74" class="yl">3</text>
<text x="21.20" y="298.78" class="yl">4</text>
<text transform="translate(10.70 377.40) rotate(-90)" class="yt serif" x="0" y="2.6" textLength="17.2" lengthAdjust="spacingAndGlyphs">log <tspan font-style="italic">g</tspan></text>
<text x="110.90" y="519.00" class="pl" textLength="17.6" lengthAdjust="spacingAndGlyphs">(c)</text>
</g>
<g id="pd">
<circle cx="418.0" cy="356.1" r="2.8" fill="#ff0000"/>
<circle cx="430.6" cy="328.8" r="2.8" fill="#ff0000"/>
<circle cx="443.3" cy="337.1" r="2.8" fill="#ff0000"/>
<circle cx="433.2" cy="335.7" r="2.8" fill="#ff0000"/>
<circle cx="429.4" cy="337.0" r="2.8" fill="#ff0000"/>
<circle cx="435.7" cy="337.0" r="2.8" fill="#ff0000"/>
<circle cx="427.5" cy="338.9" r="2.8" fill="#ff0000"/>
<circle cx="427.5" cy="342.0" r="2.8" fill="#ff0000"/>
<circle cx="432.9" cy="342.3" r="2.8" fill="#ff0000"/>
<circle cx="438.2" cy="347.0" r="2.8" fill="#ff0000"/>
<circle cx="430.4" cy="348.3" r="2.8" fill="#ff0000"/>
<circle cx="427.5" cy="347.0" r="2.8" fill="#ff0000"/>
<circle cx="438.2" cy="352.1" r="2.8" fill="#ff0000"/>
<circle cx="428.2" cy="350.8" r="2.8" fill="#ff0000"/>
<circle cx="435.1" cy="356.5" r="2.8" fill="#ff0000"/>
<circle cx="440.8" cy="356.8" r="2.8" fill="#ff0000"/>
<circle cx="453.2" cy="353.0" r="2.8" fill="#ff0000"/>
<circle cx="457.9" cy="359.4" r="2.8" fill="#ff0000"/>
<circle cx="427.5" cy="360.0" r="2.8" fill="#ff0000"/>
<circle cx="430.4" cy="365.1" r="2.8" fill="#ff0000"/>
<circle cx="440.8" cy="371.0" r="2.8" fill="#ff0000"/>
<circle cx="450.7" cy="371.9" r="2.8" fill="#ff0000"/>
<circle cx="458.0" cy="367.7" r="2.8" fill="#ff0000"/>
<circle cx="443.9" cy="378.9" r="2.8" fill="#ff0000"/>
<circle cx="440.0" cy="381.5" r="2.8" fill="#ff0000"/>
<circle cx="435.7" cy="382.0" r="2.8" fill="#ff0000"/>
<circle cx="435.7" cy="386.4" r="2.8" fill="#ff0000"/>
<circle cx="427.9" cy="392.4" r="2.8" fill="#ff0000"/>
<circle cx="432.9" cy="392.7" r="2.8" fill="#ff0000"/>
<circle cx="415.3" cy="406.5" r="2.8" fill="#ff0000"/>
<circle cx="486.0" cy="321.3" r="2.8" fill="#ff0000"/>
<circle cx="478.5" cy="326.3" r="2.8" fill="#ff0000"/>
<circle cx="493.6" cy="335.1" r="2.8" fill="#ff0000"/>
<circle cx="463.2" cy="342.3" r="2.8" fill="#ff0000"/>
<circle cx="473.5" cy="342.0" r="2.8" fill="#ff0000"/>
<circle cx="483.5" cy="341.2" r="2.8" fill="#ff0000"/>
<circle cx="496.5" cy="342.9" r="2.8" fill="#ff0000"/>
<circle cx="498.6" cy="347.2" r="2.8" fill="#ff0000"/>
<circle cx="465.7" cy="349.2" r="2.8" fill="#ff0000"/>
<circle cx="470.7" cy="364.0" r="2.8" fill="#ff0000"/>
<circle cx="488.3" cy="362.8" r="2.8" fill="#ff0000"/>
<circle cx="486.2" cy="368.0" r="2.8" fill="#ff0000"/>
<circle cx="478.2" cy="373.8" r="2.8" fill="#ff0000"/>
<circle cx="493.6" cy="369.7" r="2.8" fill="#ff0000"/>
<circle cx="493.6" cy="376.8" r="2.8" fill="#ff0000"/>
<circle cx="501.2" cy="374.8" r="2.8" fill="#ff0000"/>
<circle cx="463.2" cy="375.7" r="2.8" fill="#ff0000"/>
<circle cx="511.5" cy="364.0" r="2.8" fill="#ff0000"/>
<circle cx="521.3" cy="359.0" r="2.8" fill="#ff0000"/>
<circle cx="488.3" cy="388.6" r="2.8" fill="#ff0000"/>
<circle cx="496.3" cy="388.6" r="2.8" fill="#ff0000"/>
<circle cx="518.6" cy="388.6" r="2.8" fill="#ff0000"/>
<circle cx="475.7" cy="399.5" r="2.8" fill="#ff0000"/>
<circle cx="498.6" cy="408.6" r="2.8" fill="#ff0000"/>
<circle cx="521.3" cy="402.6" r="2.8" fill="#ff0000"/>
<circle cx="551.6" cy="344.2" r="2.8" fill="#ff0000"/>
<circle cx="543.8" cy="363.9" r="2.8" fill="#ff0000"/>
<circle cx="556.4" cy="376.7" r="2.8" fill="#ff0000"/>
<circle cx="556.4" cy="380.9" r="2.8" fill="#ff0000"/>
<circle cx="549.1" cy="383.8" r="2.8" fill="#ff0000"/>
<circle cx="551.6" cy="385.9" r="2.8" fill="#ff0000"/>
<circle cx="559.1" cy="405.5" r="2.8" fill="#ff0000"/>
<circle cx="549.1" cy="414.5" r="2.8" fill="#ff0000"/>
<circle cx="594.3" cy="374.8" r="2.8" fill="#ff0000"/>
<circle cx="602.0" cy="382.8" r="2.8" fill="#ff0000"/>
<path d="M418.1 373.6l3.1 5.2h-6.2z" fill="#ff0000"/>
<path d="M440.8 327.0l3.1 5.2h-6.2z" fill="#ff0000"/>
<path d="M426.9 348.3l3.1 5.2h-6.2z" fill="#ff0000"/>
<path d="M470.7 341.4l3.1 5.2h-6.2z" fill="#ff0000"/>
<path d="M490.8 339.8l3.1 5.2h-6.2z" fill="#ff0000"/>
<path d="M463.4 403.9l3.1 5.2h-6.2z" fill="#ff0000"/>
<path d="M476.0 420.9l3.1 5.2h-6.2z" fill="#ff0000"/>
<path d="M493.6 452.3l3.1 5.2h-6.2z" fill="#ff0000"/>
<circle cx="400.1" cy="353.0" r="2.75" fill="none" stroke="#0000ff" stroke-width="0.62"/>
<circle cx="395.1" cy="366.0" r="2.75" fill="none" stroke="#0000ff" stroke-width="0.62"/>
<circle cx="413.0" cy="361.9" r="2.75" fill="none" stroke="#0000ff" stroke-width="0.62"/>
<circle cx="420.5" cy="370.8" r="2.75" fill="none" stroke="#0000ff" stroke-width="0.62"/>
<circle cx="413.0" cy="377.6" r="2.75" fill="none" stroke="#0000ff" stroke-width="0.62"/>
<circle cx="432.9" cy="342.3" r="2.75" fill="none" stroke="#0000ff" stroke-width="0.62"/>
<circle cx="430.4" cy="348.3" r="2.75" fill="none" stroke="#0000ff" stroke-width="0.62"/>
<circle cx="430.4" cy="356.7" r="2.75" fill="none" stroke="#0000ff" stroke-width="0.62"/>
<circle cx="435.7" cy="362.5" r="2.75" fill="none" stroke="#0000ff" stroke-width="0.62"/>
<circle cx="437.9" cy="366.6" r="2.75" fill="none" stroke="#0000ff" stroke-width="0.62"/>
<circle cx="435.7" cy="377.0" r="2.75" fill="none" stroke="#0000ff" stroke-width="0.62"/>
<circle cx="440.8" cy="378.3" r="2.75" fill="none" stroke="#0000ff" stroke-width="0.62"/>
<circle cx="427.9" cy="391.5" r="2.75" fill="none" stroke="#0000ff" stroke-width="0.62"/>
<circle cx="438.2" cy="391.5" r="2.75" fill="none" stroke="#0000ff" stroke-width="0.62"/>
<circle cx="405.2" cy="413.6" r="2.75" fill="none" stroke="#0000ff" stroke-width="0.62"/>
<circle cx="486.0" cy="430.3" r="2.75" fill="none" stroke="#0000ff" stroke-width="0.62"/>
<path d="M433.2 382.7l3.1 5.2h-6.2z" fill="none" stroke="#0000ff" stroke-width="0.62"/>
<circle cx="514.0" cy="366.2" r="2.8" fill="none" stroke="#ff0000" stroke-width="0.6"/><path d="M512.1 364.3l3.8 3.8M512.1 368.1l3.8 -3.8" stroke="#ff0000" stroke-width="0.45"/>
<circle cx="564.3" cy="370.8" r="2.8" fill="none" stroke="#ff0000" stroke-width="0.6"/><path d="M562.4 368.9l3.8 3.8M562.4 372.7l3.8 -3.8" stroke="#ff0000" stroke-width="0.45"/>
<circle cx="561.8" cy="384.0" r="2.8" fill="none" stroke="#ff0000" stroke-width="0.6"/><path d="M559.9 382.1l3.8 3.8M559.9 385.9l3.8 -3.8" stroke="#ff0000" stroke-width="0.45"/>
<rect x="394.5" y="386.2" width="5.3" height="5.3" fill="none" stroke="#00ff00" stroke-width="0.55"/>
<rect x="432.5" y="370.6" width="5.3" height="5.3" fill="none" stroke="#00ff00" stroke-width="0.55"/>
<rect x="456.8" y="361.0" width="5.3" height="5.3" fill="none" stroke="#00ff00" stroke-width="0.55"/>
<rect x="461.2" y="355.1" width="5.3" height="5.3" fill="none" stroke="#00ff00" stroke-width="0.55"/>
<rect x="505.8" y="356.1" width="5.3" height="5.3" fill="none" stroke="#00ff00" stroke-width="0.55"/>
<rect x="508.9" y="366.4" width="5.3" height="5.3" fill="none" stroke="#00ff00" stroke-width="0.55"/>
<rect x="502.7" y="380.0" width="5.3" height="5.3" fill="none" stroke="#00ff00" stroke-width="0.55"/>
<rect x="528.1" y="375.4" width="5.3" height="5.3" fill="none" stroke="#00ff00" stroke-width="0.55"/>
<rect x="545.6" y="361.9" width="5.3" height="5.3" fill="none" stroke="#00ff00" stroke-width="0.55"/>
<rect x="556.9" y="362.2" width="5.3" height="5.3" fill="none" stroke="#00ff00" stroke-width="0.55"/>
<rect x="558.4" y="372.2" width="5.3" height="5.3" fill="none" stroke="#00ff00" stroke-width="0.55"/>
<rect x="537.1" y="378.2" width="5.3" height="5.3" fill="none" stroke="#00ff00" stroke-width="0.55"/>
<rect x="539.2" y="382.2" width="5.3" height="5.3" fill="none" stroke="#00ff00" stroke-width="0.55"/>
<rect x="475.85" y="400.35" width="5.3" height="5.3" fill="none" stroke="#00ff00" stroke-width="0.55"/><path d="M475.85 400.35l5.3 5.3M475.85 405.65l5.3 -5.3" stroke="#00ff00" stroke-width="0.4" stroke-opacity="0.6"/>
<rect x="454.7" y="369.4" width="5.6" height="5.6" fill="#00f000"/>
<rect x="477.7" y="366.9" width="5.6" height="5.6" fill="#00f000"/>
<rect x="477.3" y="379.1" width="5.6" height="5.6" fill="#00f000"/>
<rect x="527.5" y="350.4" width="5.6" height="5.6" fill="#00f000"/>
<path d="M380.12 475.80v-3.60M380.12 278.00v3.60M392.74 475.80v-2.00M392.74 278.00v2.00M405.36 475.80v-2.00M405.36 278.00v2.00M417.98 475.80v-2.00M417.98 278.00v2.00M430.60 475.80v-3.60M430.60 278.00v3.60M443.21 475.80v-2.00M443.21 278.00v2.00M455.83 475.80v-2.00M455.83 278.00v2.00M468.45 475.80v-2.00M468.45 278.00v2.00M481.07 475.80v-3.60M481.07 278.00v3.60M493.69 475.80v-2.00M493.69 278.00v2.00M506.31 475.80v-2.00M506.31 278.00v2.00M518.93 475.80v-2.00M518.93 278.00v2.00M531.55 475.80v-3.60M531.55 278.00v3.60M544.17 475.80v-2.00M544.17 278.00v2.00M556.79 475.80v-2.00M556.79 278.00v2.00M569.40 475.80v-2.00M569.40 278.00v2.00M582.02 475.80v-3.60M582.02 278.00v3.60M594.64 475.80v-2.00M594.64 278.00v2.00M607.26 475.80v-2.00M607.26 278.00v2.00M619.88 475.80v-2.00M619.88 278.00v2.00M367.50 465.91h2.00M632.50 465.91h-2.00M367.50 456.02h3.60M632.50 456.02h-3.60M367.50 446.13h2.00M632.50 446.13h-2.00M367.50 436.24h2.00M632.50 436.24h-2.00M367.50 426.35h2.00M632.50 426.35h-2.00M367.50 416.46h2.00M632.50 416.46h-2.00M367.50 406.57h3.60M632.50 406.57h-3.60M367.50 396.68h2.00M632.50 396.68h-2.00M367.50 386.79h2.00M632.50 386.79h-2.00M367.50 376.90h2.00M632.50 376.90h-2.00M367.50 367.01h2.00M632.50 367.01h-2.00M367.50 357.12h3.60M632.50 357.12h-3.60M367.50 347.23h2.00M632.50 347.23h-2.00M367.50 337.34h2.00M632.50 337.34h-2.00M367.50 327.45h2.00M632.50 327.45h-2.00M367.50 317.56h2.00M632.50 317.56h-2.00M367.50 307.67h3.60M632.50 307.67h-3.60M367.50 297.78h2.00M632.50 297.78h-2.00M367.50 287.89h2.00M632.50 287.89h-2.00" stroke="#666" stroke-width="0.9" fill="none"/>
<path d="M367.00 278.00H633.00M367.00 475.80H633.00" stroke="#8c8c8c" stroke-width="1" fill="none"/>
<path d="M367.50 277.50V476.30M632.50 277.50V476.30" stroke="#8c8c8c" stroke-width="1" fill="none"/>
<text x="380.52" y="484.50" class="xl">0.8</text>
<text x="431.00" y="484.50" class="xl">1</text>
<text x="481.47" y="484.50" class="xl">1.2</text>
<text x="531.95" y="484.50" class="xl">1.4</text>
<text x="582.42" y="484.50" class="xl">1.6</text>
<text x="632.90" y="484.50" class="xl">1.8</text>
<text x="499.60" y="491.40" class="xt" textLength="38.9" lengthAdjust="spacingAndGlyphs">B−V (mag)</text>
<text x="363.70" y="458.82" class="yl">−1</text>
<text x="363.70" y="409.37" class="yl">−0.5</text>
<text x="363.70" y="359.92" class="yl">0</text>
<text x="363.70" y="310.47" class="yl">0.5</text>
<text transform="translate(340.50 376.30) rotate(-90)" class="yt serif" x="0" y="2.6" textLength="26.0" lengthAdjust="spacingAndGlyphs">[Fe/H]</text>
<text x="453.30" y="519.00" class="pl" textLength="18.5" lengthAdjust="spacingAndGlyphs">(d)</text>
</g>
<g id="pe">
<circle cx="75.4" cy="686.9" r="2.8" fill="#ff0000"/>
<circle cx="72.9" cy="713.5" r="2.8" fill="#ff0000"/>
<circle cx="90.6" cy="646.3" r="2.8" fill="#ff0000"/>
<circle cx="88.1" cy="650.1" r="2.8" fill="#ff0000"/>
<circle cx="98.1" cy="652.9" r="2.8" fill="#ff0000"/>
<circle cx="88.1" cy="654.2" r="2.8" fill="#ff0000"/>
<circle cx="84.9" cy="658.2" r="2.8" fill="#ff0000"/>
<circle cx="92.2" cy="658.2" r="2.8" fill="#ff0000"/>
<circle cx="94.4" cy="658.2" r="2.8" fill="#ff0000"/>
<circle cx="93.1" cy="666.4" r="2.8" fill="#ff0000"/>
<circle cx="96.2" cy="666.4" r="2.8" fill="#ff0000"/>
<circle cx="93.4" cy="668.9" r="2.8" fill="#ff0000"/>
<circle cx="85.5" cy="670.2" r="2.8" fill="#ff0000"/>
<circle cx="90.6" cy="674.3" r="2.8" fill="#ff0000"/>
<circle cx="88.7" cy="676.3" r="2.8" fill="#ff0000"/>
<circle cx="93.7" cy="676.9" r="2.8" fill="#ff0000"/>
<circle cx="98.1" cy="678.1" r="2.8" fill="#ff0000"/>
<circle cx="85.5" cy="681.9" r="2.8" fill="#ff0000"/>
<circle cx="100.6" cy="684.4" r="2.8" fill="#ff0000"/>
<circle cx="96.9" cy="682.5" r="2.8" fill="#ff0000"/>
<circle cx="85.5" cy="689.5" r="2.8" fill="#ff0000"/>
<circle cx="88.1" cy="687.6" r="2.8" fill="#ff0000"/>
<circle cx="85.5" cy="693.9" r="2.8" fill="#ff0000"/>
<circle cx="90.6" cy="693.9" r="2.8" fill="#ff0000"/>
<circle cx="95.6" cy="694.5" r="2.8" fill="#ff0000"/>
<circle cx="110.7" cy="687.6" r="2.8" fill="#ff0000"/>
<circle cx="115.7" cy="698.0" r="2.8" fill="#ff0000"/>
<circle cx="90.6" cy="703.9" r="2.8" fill="#ff0000"/>
<circle cx="108.2" cy="707.1" r="2.8" fill="#ff0000"/>
<circle cx="87.4" cy="710.2" r="2.8" fill="#ff0000"/>
<circle cx="87.4" cy="713.4" r="2.8" fill="#ff0000"/>
<circle cx="95.6" cy="711.2" r="2.8" fill="#ff0000"/>
<circle cx="100.6" cy="710.8" r="2.8" fill="#ff0000"/>
<circle cx="151.5" cy="662.4" r="2.8" fill="#ff0000"/>
<circle cx="154.0" cy="662.4" r="2.8" fill="#ff0000"/>
<circle cx="136.0" cy="669.5" r="2.8" fill="#ff0000"/>
<circle cx="120.9" cy="678.1" r="2.8" fill="#ff0000"/>
<circle cx="156.2" cy="682.1" r="2.8" fill="#ff0000"/>
<circle cx="146.1" cy="686.2" r="2.8" fill="#ff0000"/>
<circle cx="120.9" cy="693.4" r="2.8" fill="#ff0000"/>
<circle cx="143.5" cy="694.0" r="2.8" fill="#ff0000"/>
<circle cx="151.1" cy="694.0" r="2.8" fill="#ff0000"/>
<circle cx="123.2" cy="703.2" r="2.8" fill="#ff0000"/>
<circle cx="135.8" cy="699.7" r="2.8" fill="#ff0000"/>
<circle cx="133.2" cy="705.7" r="2.8" fill="#ff0000"/>
<circle cx="141.4" cy="706.0" r="2.8" fill="#ff0000"/>
<circle cx="146.1" cy="706.3" r="2.8" fill="#ff0000"/>
<circle cx="130.7" cy="711.6" r="2.8" fill="#ff0000"/>
<circle cx="128.2" cy="715.1" r="2.8" fill="#ff0000"/>
<circle cx="153.6" cy="709.7" r="2.8" fill="#ff0000"/>
<circle cx="156.2" cy="713.1" r="2.8" fill="#ff0000"/>
<circle cx="158.7" cy="705.7" r="2.8" fill="#ff0000"/>
<circle cx="168.7" cy="702.2" r="2.8" fill="#ff0000"/>
<circle cx="178.8" cy="700.0" r="2.8" fill="#ff0000"/>
<circle cx="181.6" cy="699.0" r="2.8" fill="#ff0000"/>
<circle cx="176.3" cy="710.4" r="2.8" fill="#ff0000"/>
<circle cx="178.8" cy="721.8" r="2.8" fill="#ff0000"/>
<circle cx="151.2" cy="724.1" r="2.8" fill="#ff0000"/>
<circle cx="214.2" cy="682.3" r="2.8" fill="#ff0000"/>
<circle cx="209.1" cy="686.1" r="2.8" fill="#ff0000"/>
<circle cx="201.6" cy="694.0" r="2.8" fill="#ff0000"/>
<circle cx="209.1" cy="694.2" r="2.8" fill="#ff0000"/>
<circle cx="206.4" cy="698.1" r="2.8" fill="#ff0000"/>
<circle cx="216.7" cy="713.8" r="2.8" fill="#ff0000"/>
<circle cx="214.2" cy="717.5" r="2.8" fill="#ff0000"/>
<circle cx="252.0" cy="721.0" r="2.8" fill="#ff0000"/>
<circle cx="259.1" cy="686.4" r="2.8" fill="#ff0000"/>
<circle cx="206.6" cy="575.2" r="2.8" fill="#ff0000"/>
<path d="M84.9 642.9l3.1 5.2h-6.2z" fill="#ff0000"/>
<path d="M75.4 704.2l3.1 5.2h-6.2z" fill="#ff0000"/>
<path d="M151.2 639.2l3.1 5.2h-6.2z" fill="#ff0000"/>
<path d="M148.6 667.1l3.1 5.2h-6.2z" fill="#ff0000"/>
<path d="M128.5 682.5l3.1 5.2h-6.2z" fill="#ff0000"/>
<circle cx="57.8" cy="599.0" r="2.75" fill="none" stroke="#0000ff" stroke-width="0.62"/>
<circle cx="52.8" cy="631.1" r="2.75" fill="none" stroke="#0000ff" stroke-width="0.62"/>
<circle cx="78.0" cy="646.8" r="2.75" fill="none" stroke="#0000ff" stroke-width="0.62"/>
<circle cx="70.5" cy="662.4" r="2.75" fill="none" stroke="#0000ff" stroke-width="0.62"/>
<circle cx="70.5" cy="677.9" r="2.75" fill="none" stroke="#0000ff" stroke-width="0.62"/>
<circle cx="63.0" cy="705.9" r="2.75" fill="none" stroke="#0000ff" stroke-width="0.62"/>
<circle cx="85.2" cy="646.0" r="2.75" fill="none" stroke="#0000ff" stroke-width="0.62"/>
<circle cx="88.1" cy="654.2" r="2.75" fill="none" stroke="#0000ff" stroke-width="0.62"/>
<circle cx="88.7" cy="658.9" r="2.75" fill="none" stroke="#0000ff" stroke-width="0.62"/>
<circle cx="92.5" cy="658.6" r="2.75" fill="none" stroke="#0000ff" stroke-width="0.62"/>
<circle cx="96.2" cy="658.2" r="2.75" fill="none" stroke="#0000ff" stroke-width="0.62"/>
<circle cx="93.1" cy="666.4" r="2.75" fill="none" stroke="#0000ff" stroke-width="0.62"/>
<circle cx="98.1" cy="674.0" r="2.75" fill="none" stroke="#0000ff" stroke-width="0.62"/>
<circle cx="96.2" cy="689.2" r="2.75" fill="none" stroke="#0000ff" stroke-width="0.62"/>
<circle cx="143.7" cy="717.8" r="2.75" fill="none" stroke="#0000ff" stroke-width="0.62"/>
<path d="M91.8 690.5l3.1 5.2h-6.2z" fill="none" stroke="#0000ff" stroke-width="0.62"/>
<circle cx="171.6" cy="687.1" r="2.8" fill="none" stroke="#ff0000" stroke-width="0.6"/><path d="M169.7 685.2l3.8 3.8M169.7 689.0l3.8 -3.8" stroke="#ff0000" stroke-width="0.45"/>
<circle cx="221.8" cy="668.8" r="2.8" fill="none" stroke="#ff0000" stroke-width="0.6"/><path d="M219.9 666.9l3.8 3.8M219.9 670.7l3.8 -3.8" stroke="#ff0000" stroke-width="0.45"/>
<circle cx="219.3" cy="708.4" r="2.8" fill="none" stroke="#ff0000" stroke-width="0.6"/><path d="M217.4 706.5l3.8 3.8M217.4 710.3l3.8 -3.8" stroke="#ff0000" stroke-width="0.45"/>
<rect x="52.2" y="702.1" width="5.3" height="5.3" fill="none" stroke="#00ff00" stroke-width="0.55"/>
<rect x="89.8" y="708.9" width="5.3" height="5.3" fill="none" stroke="#00ff00" stroke-width="0.55"/>
<rect x="166.3" y="684.9" width="5.3" height="5.3" fill="none" stroke="#00ff00" stroke-width="0.55"/>
<rect x="118.6" y="702.4" width="5.3" height="5.3" fill="none" stroke="#00ff00" stroke-width="0.55"/>
<rect x="160.2" y="702.1" width="5.3" height="5.3" fill="none" stroke="#00ff00" stroke-width="0.55"/>
<rect x="163.2" y="700.1" width="5.3" height="5.3" fill="none" stroke="#00ff00" stroke-width="0.55"/>
<rect x="185.3" y="708.0" width="5.3" height="5.3" fill="none" stroke="#00ff00" stroke-width="0.55"/>
<rect x="194.3" y="697.0" width="5.3" height="5.3" fill="none" stroke="#00ff00" stroke-width="0.55"/>
<rect x="196.4" y="702.4" width="5.3" height="5.3" fill="none" stroke="#00ff00" stroke-width="0.55"/>
<rect x="202.4" y="695.8" width="5.3" height="5.3" fill="none" stroke="#00ff00" stroke-width="0.55"/>
<rect x="215.9" y="689.1" width="5.3" height="5.3" fill="none" stroke="#00ff00" stroke-width="0.55"/>
<rect x="214.4" y="696.1" width="5.3" height="5.3" fill="none" stroke="#00ff00" stroke-width="0.55"/>
<rect x="133.35" y="712.05" width="5.3" height="5.3" fill="none" stroke="#00ff00" stroke-width="0.55"/><path d="M133.35 712.05l5.3 5.3M133.35 717.35l5.3 -5.3" stroke="#00ff00" stroke-width="0.4" stroke-opacity="0.6"/>
<rect x="112.4" y="705.5" width="5.6" height="5.6" fill="#00f000"/>
<rect x="135.1" y="697.2" width="5.6" height="5.6" fill="#00f000"/>
<rect x="135.1" y="701.9" width="5.6" height="5.6" fill="#00f000"/>
<rect x="184.6" y="679.2" width="5.6" height="5.6" fill="#00f000"/>
<path d="M37.62 753.50v-3.60M37.62 555.50v3.60M50.24 753.50v-2.00M50.24 555.50v2.00M62.86 753.50v-2.00M62.86 555.50v2.00M75.48 753.50v-2.00M75.48 555.50v2.00M88.10 753.50v-3.60M88.10 555.50v3.60M100.71 753.50v-2.00M100.71 555.50v2.00M113.33 753.50v-2.00M113.33 555.50v2.00M125.95 753.50v-2.00M125.95 555.50v2.00M138.57 753.50v-3.60M138.57 555.50v3.60M151.19 753.50v-2.00M151.19 555.50v2.00M163.81 753.50v-2.00M163.81 555.50v2.00M176.43 753.50v-2.00M176.43 555.50v2.00M189.05 753.50v-3.60M189.05 555.50v3.60M201.67 753.50v-2.00M201.67 555.50v2.00M214.29 753.50v-2.00M214.29 555.50v2.00M226.90 753.50v-2.00M226.90 555.50v2.00M239.52 753.50v-3.60M239.52 555.50v3.60M252.14 753.50v-2.00M252.14 555.50v2.00M264.76 753.50v-2.00M264.76 555.50v2.00M277.38 753.50v-2.00M277.38 555.50v2.00M25.00 745.58h2.00M290.00 745.58h-2.00M25.00 737.66h2.00M290.00 737.66h-2.00M25.00 729.74h2.00M290.00 729.74h-2.00M25.00 721.82h2.00M290.00 721.82h-2.00M25.00 713.90h3.60M290.00 713.90h-3.60M25.00 705.98h2.00M290.00 705.98h-2.00M25.00 698.06h2.00M290.00 698.06h-2.00M25.00 690.14h2.00M290.00 690.14h-2.00M25.00 682.22h2.00M290.00 682.22h-2.00M25.00 674.30h3.60M290.00 674.30h-3.60M25.00 666.38h2.00M290.00 666.38h-2.00M25.00 658.46h2.00M290.00 658.46h-2.00M25.00 650.54h2.00M290.00 650.54h-2.00M25.00 642.62h2.00M290.00 642.62h-2.00M25.00 634.70h3.60M290.00 634.70h-3.60M25.00 626.78h2.00M290.00 626.78h-2.00M25.00 618.86h2.00M290.00 618.86h-2.00M25.00 610.94h2.00M290.00 610.94h-2.00M25.00 603.02h2.00M290.00 603.02h-2.00M25.00 595.10h3.60M290.00 595.10h-3.60M25.00 587.18h2.00M290.00 587.18h-2.00M25.00 579.26h2.00M290.00 579.26h-2.00M25.00 571.34h2.00M290.00 571.34h-2.00M25.00 563.42h2.00M290.00 563.42h-2.00" stroke="#666" stroke-width="0.9" fill="none"/>
<path d="M24.50 555.50H290.50M24.50 753.50H290.50" stroke="#8c8c8c" stroke-width="1" fill="none"/>
<path d="M25.00 555.00V754.00M290.00 555.00V754.00" stroke="#8c8c8c" stroke-width="1" fill="none"/>
<text x="38.02" y="762.20" class="xl">0.8</text>
<text x="88.50" y="762.20" class="xl">1</text>
<text x="138.97" y="762.20" class="xl">1.2</text>
<text x="189.45" y="762.20" class="xl">1.4</text>
<text x="239.92" y="762.20" class="xl">1.6</text>
<text x="290.40" y="762.20" class="xl">1.8</text>
<text x="157.10" y="769.10" class="xt" textLength="38.9" lengthAdjust="spacingAndGlyphs">B−V (mag)</text>
<text x="21.20" y="756.30" class="yl">0</text>
<text x="21.20" y="716.70" class="yl">1</text>
<text x="21.20" y="677.10" class="yl">2</text>
<text x="21.20" y="637.50" class="yl">3</text>
<text x="21.20" y="597.90" class="yl">4</text>
<text x="21.20" y="558.30" class="yl">5</text>
<text transform="translate(9.30 654.00) rotate(-90)" class="yt serif" x="0" y="2.6" textLength="64.0" lengthAdjust="spacingAndGlyphs">Stellar mass (M<tspan font-size="5" dy="1.4">⊙</tspan><tspan dy="-1.4">)</tspan></text>
<text x="110.90" y="796.40" class="pl" textLength="17.6" lengthAdjust="spacingAndGlyphs">(e)</text>
</g>
<g id="pf">
<circle cx="429.0" cy="699.5" r="2.8" fill="#ff0000"/>
<circle cx="431.3" cy="699.1" r="2.8" fill="#ff0000"/>
<circle cx="433.5" cy="703.0" r="2.8" fill="#ff0000"/>
<circle cx="427.8" cy="705.8" r="2.8" fill="#ff0000"/>
<circle cx="415.7" cy="720.0" r="2.8" fill="#ff0000"/>
<circle cx="417.9" cy="734.8" r="2.8" fill="#ff0000"/>
<circle cx="430.4" cy="742.8" r="2.8" fill="#ff0000"/>
<circle cx="435.8" cy="707.0" r="2.8" fill="#ff0000"/>
<circle cx="441.5" cy="709.5" r="2.8" fill="#ff0000"/>
<circle cx="433.0" cy="711.0" r="2.8" fill="#ff0000"/>
<circle cx="437.0" cy="714.0" r="2.8" fill="#ff0000"/>
<circle cx="434.5" cy="718.5" r="2.8" fill="#ff0000"/>
<circle cx="431.0" cy="713.0" r="2.8" fill="#ff0000"/>
<circle cx="439.5" cy="713.5" r="2.8" fill="#ff0000"/>
<circle cx="440.2" cy="717.0" r="2.8" fill="#ff0000"/>
<circle cx="443.4" cy="720.8" r="2.8" fill="#ff0000"/>
<circle cx="427.7" cy="717.0" r="2.8" fill="#ff0000"/>
<circle cx="427.7" cy="721.4" r="2.8" fill="#ff0000"/>
<circle cx="431.4" cy="720.2" r="2.8" fill="#ff0000"/>
<circle cx="428.3" cy="725.8" r="2.8" fill="#ff0000"/>
<circle cx="427.7" cy="732.7" r="2.8" fill="#ff0000"/>
<circle cx="431.4" cy="731.5" r="2.8" fill="#ff0000"/>
<circle cx="434.6" cy="734.6" r="2.8" fill="#ff0000"/>
<circle cx="438.4" cy="737.8" r="2.8" fill="#ff0000"/>
<circle cx="442.8" cy="732.7" r="2.8" fill="#ff0000"/>
<circle cx="430.2" cy="735.9" r="2.8" fill="#ff0000"/>
<circle cx="452.8" cy="720.8" r="2.8" fill="#ff0000"/>
<circle cx="450.6" cy="724.6" r="2.8" fill="#ff0000"/>
<circle cx="458.2" cy="712.6" r="2.8" fill="#ff0000"/>
<circle cx="458.2" cy="725.8" r="2.8" fill="#ff0000"/>
<circle cx="496.1" cy="655.3" r="2.8" fill="#ff0000"/>
<circle cx="498.6" cy="667.2" r="2.8" fill="#ff0000"/>
<circle cx="521.3" cy="673.5" r="2.8" fill="#ff0000"/>
<circle cx="488.3" cy="676.4" r="2.8" fill="#ff0000"/>
<circle cx="496.1" cy="675.1" r="2.8" fill="#ff0000"/>
<circle cx="475.8" cy="678.6" r="2.8" fill="#ff0000"/>
<circle cx="498.6" cy="682.0" r="2.8" fill="#ff0000"/>
<circle cx="501.2" cy="680.2" r="2.8" fill="#ff0000"/>
<circle cx="511.2" cy="681.7" r="2.8" fill="#ff0000"/>
<circle cx="518.7" cy="692.1" r="2.8" fill="#ff0000"/>
<circle cx="521.3" cy="690.2" r="2.8" fill="#ff0000"/>
<circle cx="470.8" cy="694.0" r="2.8" fill="#ff0000"/>
<circle cx="486.1" cy="699.0" r="2.8" fill="#ff0000"/>
<circle cx="463.2" cy="705.0" r="2.8" fill="#ff0000"/>
<circle cx="473.3" cy="706.5" r="2.8" fill="#ff0000"/>
<circle cx="478.3" cy="707.4" r="2.8" fill="#ff0000"/>
<circle cx="485.8" cy="711.6" r="2.8" fill="#ff0000"/>
<circle cx="493.4" cy="711.6" r="2.8" fill="#ff0000"/>
<circle cx="493.4" cy="714.1" r="2.8" fill="#ff0000"/>
<circle cx="478.3" cy="716.6" r="2.8" fill="#ff0000"/>
<circle cx="463.2" cy="725.4" r="2.8" fill="#ff0000"/>
<circle cx="466.1" cy="726.4" r="2.8" fill="#ff0000"/>
<circle cx="488.3" cy="729.8" r="2.8" fill="#ff0000"/>
<circle cx="549.1" cy="568.5" r="2.8" fill="#ff0000"/>
<circle cx="556.6" cy="569.0" r="2.8" fill="#ff0000"/>
<circle cx="551.6" cy="580.4" r="2.8" fill="#ff0000"/>
<circle cx="549.1" cy="613.1" r="2.8" fill="#ff0000"/>
<circle cx="559.1" cy="614.3" r="2.8" fill="#ff0000"/>
<circle cx="543.8" cy="623.7" r="2.8" fill="#ff0000"/>
<circle cx="556.4" cy="625.3" r="2.8" fill="#ff0000"/>
<circle cx="602.0" cy="636.2" r="2.8" fill="#ff0000"/>
<circle cx="551.4" cy="661.4" r="2.8" fill="#ff0000"/>
<circle cx="594.4" cy="714.7" r="2.8" fill="#ff0000"/>
<path d="M417.9 725.1l3.1 5.2h-6.2z" fill="#ff0000"/>
<path d="M475.8 663.9l3.1 5.2h-6.2z" fill="#ff0000"/>
<path d="M491.5 673.5l3.1 5.2h-6.2z" fill="#ff0000"/>
<path d="M470.8 697.8l3.1 5.2h-6.2z" fill="#ff0000"/>
<path d="M493.6 570.1l3.1 5.2h-6.2z" fill="#ff0000"/>
<path d="M463.6 632.9l3.1 5.2h-6.2z" fill="#ff0000"/>
<circle cx="400.1" cy="678.4" r="2.75" fill="none" stroke="#0000ff" stroke-width="0.62"/>
<circle cx="428.0" cy="680.5" r="2.75" fill="none" stroke="#0000ff" stroke-width="0.62"/>
<circle cx="395.1" cy="701.8" r="2.75" fill="none" stroke="#0000ff" stroke-width="0.62"/>
<circle cx="420.5" cy="710.8" r="2.75" fill="none" stroke="#0000ff" stroke-width="0.62"/>
<circle cx="413.0" cy="716.5" r="2.75" fill="none" stroke="#0000ff" stroke-width="0.62"/>
<circle cx="413.0" cy="722.6" r="2.75" fill="none" stroke="#0000ff" stroke-width="0.62"/>
<circle cx="405.2" cy="719.8" r="2.75" fill="none" stroke="#0000ff" stroke-width="0.62"/>
<circle cx="440.9" cy="703.8" r="2.75" fill="none" stroke="#0000ff" stroke-width="0.62"/>
<circle cx="435.8" cy="708.2" r="2.75" fill="none" stroke="#0000ff" stroke-width="0.62"/>
<circle cx="439.0" cy="712.0" r="2.75" fill="none" stroke="#0000ff" stroke-width="0.62"/>
<circle cx="434.0" cy="713.2" r="2.75" fill="none" stroke="#0000ff" stroke-width="0.62"/>
<circle cx="430.2" cy="715.1" r="2.75" fill="none" stroke="#0000ff" stroke-width="0.62"/>
<circle cx="436.5" cy="719.5" r="2.75" fill="none" stroke="#0000ff" stroke-width="0.62"/>
<circle cx="429.5" cy="719.5" r="2.75" fill="none" stroke="#0000ff" stroke-width="0.62"/>
<circle cx="486.1" cy="653.4" r="2.75" fill="none" stroke="#0000ff" stroke-width="0.62"/>
<path d="M437.1 707.6l3.1 5.2h-6.2z" fill="none" stroke="#0000ff" stroke-width="0.62"/>
<circle cx="513.8" cy="669.5" r="2.8" fill="none" stroke="#ff0000" stroke-width="0.6"/><path d="M511.9 667.6l3.8 3.8M511.9 671.4l3.8 -3.8" stroke="#ff0000" stroke-width="0.45"/>
<circle cx="564.2" cy="570.0" r="2.8" fill="none" stroke="#ff0000" stroke-width="0.6"/><path d="M562.3 568.1l3.8 3.8M562.3 571.9l3.8 -3.8" stroke="#ff0000" stroke-width="0.45"/>
<circle cx="561.8" cy="588.3" r="2.8" fill="none" stroke="#ff0000" stroke-width="0.6"/><path d="M559.9 586.4l3.8 3.8M559.9 590.2l3.8 -3.8" stroke="#ff0000" stroke-width="0.45"/>
<rect x="394.5" y="728.9" width="5.3" height="5.3" fill="none" stroke="#00ff00" stroke-width="0.55"/>
<rect x="457.2" y="719.6" width="5.3" height="5.3" fill="none" stroke="#00ff00" stroke-width="0.55"/>
<rect x="502.7" y="669.4" width="5.3" height="5.3" fill="none" stroke="#00ff00" stroke-width="0.55"/>
<rect x="509.0" y="681.2" width="5.3" height="5.3" fill="none" stroke="#00ff00" stroke-width="0.55"/>
<rect x="505.8" y="706.4" width="5.3" height="5.3" fill="none" stroke="#00ff00" stroke-width="0.55"/>
<rect x="545.6" y="619.2" width="5.3" height="5.3" fill="none" stroke="#00ff00" stroke-width="0.55"/>
<rect x="539.2" y="635.6" width="5.3" height="5.3" fill="none" stroke="#00ff00" stroke-width="0.55"/>
<rect x="537.1" y="651.4" width="5.3" height="5.3" fill="none" stroke="#00ff00" stroke-width="0.55"/>
<rect x="556.6" y="648.2" width="5.3" height="5.3" fill="none" stroke="#00ff00" stroke-width="0.55"/>
<rect x="528.0" y="656.8" width="5.3" height="5.3" fill="none" stroke="#00ff00" stroke-width="0.55"/>
<rect x="558.4" y="694.1" width="5.3" height="5.3" fill="none" stroke="#00ff00" stroke-width="0.55"/>
<rect x="461.2" y="636.2" width="5.3" height="5.3" fill="none" stroke="#00ff00" stroke-width="0.55"/>
<rect x="432.0" y="713.8" width="5.3" height="5.3" fill="none" stroke="#00ff00" stroke-width="0.55"/>
<rect x="475.65" y="669.95" width="5.3" height="5.3" fill="none" stroke="#00ff00" stroke-width="0.55"/><path d="M475.65 669.95l5.3 5.3M475.65 675.25l5.3 -5.3" stroke="#00ff00" stroke-width="0.4" stroke-opacity="0.6"/>
<rect x="454.7" y="713.0" width="5.6" height="5.6" fill="#00f000"/>
<rect x="477.4" y="684.3" width="5.6" height="5.6" fill="#00f000"/>
<rect x="477.4" y="708.8" width="5.6" height="5.6" fill="#00f000"/>
<rect x="527.1" y="662.5" width="5.6" height="5.6" fill="#00f000"/>
<path d="M380.12 753.50v-3.60M380.12 555.50v3.60M392.74 753.50v-2.00M392.74 555.50v2.00M405.36 753.50v-2.00M405.36 555.50v2.00M417.98 753.50v-2.00M417.98 555.50v2.00M430.60 753.50v-3.60M430.60 555.50v3.60M443.21 753.50v-2.00M443.21 555.50v2.00M455.83 753.50v-2.00M455.83 555.50v2.00M468.45 753.50v-2.00M468.45 555.50v2.00M481.07 753.50v-3.60M481.07 555.50v3.60M493.69 753.50v-2.00M493.69 555.50v2.00M506.31 753.50v-2.00M506.31 555.50v2.00M518.93 753.50v-2.00M518.93 555.50v2.00M531.55 753.50v-3.60M531.55 555.50v3.60M544.17 753.50v-2.00M544.17 555.50v2.00M556.79 753.50v-2.00M556.79 555.50v2.00M569.40 753.50v-2.00M569.40 555.50v2.00M582.02 753.50v-3.60M582.02 555.50v3.60M594.64 753.50v-2.00M594.64 555.50v2.00M607.26 753.50v-2.00M607.26 555.50v2.00M619.88 753.50v-2.00M619.88 555.50v2.00M367.50 746.17h2.00M632.50 746.17h-2.00M367.50 738.83h2.00M632.50 738.83h-2.00M367.50 731.50h2.00M632.50 731.50h-2.00M367.50 724.17h2.00M632.50 724.17h-2.00M367.50 716.83h3.60M632.50 716.83h-3.60M367.50 709.50h2.00M632.50 709.50h-2.00M367.50 702.17h2.00M632.50 702.17h-2.00M367.50 694.83h2.00M632.50 694.83h-2.00M367.50 687.50h2.00M632.50 687.50h-2.00M367.50 680.17h3.60M632.50 680.17h-3.60M367.50 672.83h2.00M632.50 672.83h-2.00M367.50 665.50h2.00M632.50 665.50h-2.00M367.50 658.17h2.00M632.50 658.17h-2.00M367.50 650.83h2.00M632.50 650.83h-2.00M367.50 643.50h3.60M632.50 643.50h-3.60M367.50 636.17h2.00M632.50 636.17h-2.00M367.50 628.83h2.00M632.50 628.83h-2.00M367.50 621.50h2.00M632.50 621.50h-2.00M367.50 614.17h2.00M632.50 614.17h-2.00M367.50 606.83h3.60M632.50 606.83h-3.60M367.50 599.50h2.00M632.50 599.50h-2.00M367.50 592.17h2.00M632.50 592.17h-2.00M367.50 584.83h2.00M632.50 584.83h-2.00M367.50 577.50h2.00M632.50 577.50h-2.00M367.50 570.17h3.60M632.50 570.17h-3.60M367.50 562.83h2.00M632.50 562.83h-2.00" stroke="#666" stroke-width="0.9" fill="none"/>
<path d="M367.00 555.50H633.00M367.00 753.50H633.00" stroke="#8c8c8c" stroke-width="1" fill="none"/>
<path d="M367.50 555.00V754.00M632.50 555.00V754.00" stroke="#8c8c8c" stroke-width="1" fill="none"/>
<text x="380.52" y="762.20" class="xl">0.8</text>
<text x="431.00" y="762.20" class="xl">1</text>
<text x="481.47" y="762.20" class="xl">1.2</text>
<text x="531.95" y="762.20" class="xl">1.4</text>
<text x="582.42" y="762.20" class="xl">1.6</text>
<text x="632.90" y="762.20" class="xl">1.8</text>
<text x="499.60" y="769.10" class="xt" textLength="38.9" lengthAdjust="spacingAndGlyphs">B−V (mag)</text>
<text x="363.70" y="756.30" class="yl">0</text>
<text x="363.70" y="719.63" class="yl">10</text>
<text x="363.70" y="682.97" class="yl">20</text>
<text x="363.70" y="646.30" class="yl">30</text>
<text x="363.70" y="609.63" class="yl">40</text>
<text x="363.70" y="572.97" class="yl">50</text>
<text transform="translate(347.40 654.20) rotate(-90)" class="yt sans" x="0" y="2.6" textLength="67.0" lengthAdjust="spacingAndGlyphs">Stellar radius (R<tspan font-size="5.5" dy="1.4">⊙</tspan><tspan dy="-1.4">)</tspan></text>
<text x="453.50" y="796.40" class="pl" textLength="15.1" lengthAdjust="spacingAndGlyphs">(f)</text>
</g>
<circle cx="37.6" cy="121.1" r="2.75" fill="none" stroke="#0000ff" stroke-width="0.62"/>
<text x="50.3" y="123.30" class="lg" textLength="98.8" lengthAdjust="spacingAndGlyphs">single planets G giants (18 stars)</text>
<path d="M37.6 127.4l3.1 5.2h-6.2z" fill="none" stroke="#0000ff" stroke-width="0.62"/>
<text x="50.3" y="132.70" class="lg" textLength="94.8" lengthAdjust="spacingAndGlyphs">double planets G giants (1 star)</text>
<circle cx="37.6" cy="139.9" r="2.8" fill="#ff0000"/>
<text x="50.3" y="142.10" class="lg" textLength="115.6" lengthAdjust="spacingAndGlyphs">single planets K giants (max. 72 stars)</text>
<path d="M37.6 146.2l3.1 5.2h-6.2z" fill="#ff0000"/>
<text x="50.3" y="151.50" class="lg" textLength="117.8" lengthAdjust="spacingAndGlyphs">double planets K giants (max. 11 stars)</text>
<circle cx="37.6" cy="158.7" r="2.8" fill="none" stroke="#ff0000" stroke-width="0.6"/><path d="M35.7 156.8l3.8 3.8M35.7 160.6l3.8 -3.8" stroke="#ff0000" stroke-width="0.45"/>
<text x="50.3" y="160.90" class="lg" textLength="103.0" lengthAdjust="spacingAndGlyphs">doubtful planets K giants (3 stars)</text>
<rect x="34.8" y="165.3" width="5.6" height="5.6" fill="#00f000"/>
<text x="50.3" y="170.30" class="lg" textLength="91.9" lengthAdjust="spacingAndGlyphs">TLS planets published (4 stars)</text>
<rect x="34.95" y="174.85" width="5.3" height="5.3" fill="none" stroke="#00ff00" stroke-width="0.55"/><path d="M34.95 174.85l5.3 5.3M34.95 180.15l5.3 -5.3" stroke="#00ff00" stroke-width="0.4" stroke-opacity="0.6"/>
<text x="50.3" y="179.70" class="lg" textLength="83.3" lengthAdjust="spacingAndGlyphs">TLS doubtful planet (42 Dra)</text>
<rect x="35.0" y="184.3" width="5.3" height="5.3" fill="none" stroke="#00ff00" stroke-width="0.55"/>
<text x="50.3" y="189.10" class="lg" textLength="95.8" lengthAdjust="spacingAndGlyphs">TLS planet candidates (13 stars)</text>
</svg></body></html>
